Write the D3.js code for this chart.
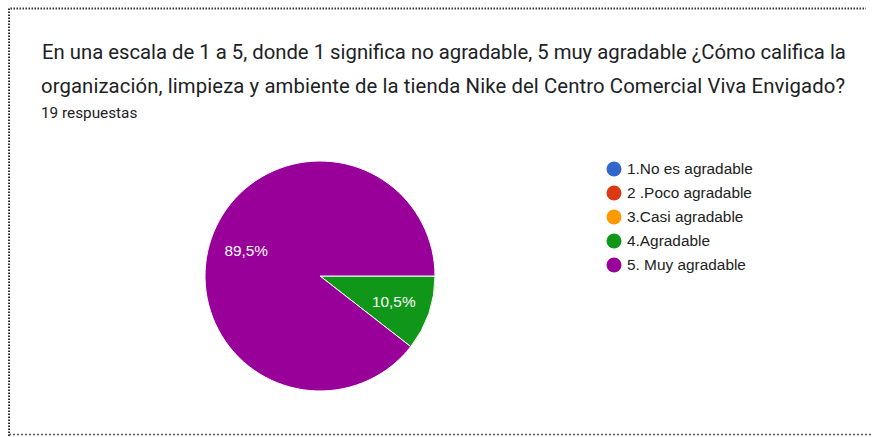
<!DOCTYPE html>
<html>
<head>
<meta charset="utf-8">
<script src="https://cdn.jsdelivr.net/npm/d3@7"></script>
<style>
  html, body { margin: 0; padding: 0; background: #fff; }
  svg { display: block; }
  text.title { white-space: pre; }
</style>
</head>
<body>
<svg id="chart" width="873" height="437"></svg>
<script>
// Survey answers (19 responses)
const categories = ["1.No es agradable", "2 .Poco agradable", "3.Casi agradable", "4.Agradable", "5. Muy agradable"];
const counts = [0, 0, 0, 2, 17];
const percentLabels = ["0%", "0%", "0%", "10,5%", "89,5%"];
const colors = ["#3366cc", "#dc3912", "#ff9900", "#109618", "#990099"];
const titleLines = [
  " En una escala de 1 a 5, donde 1 significa no agradable, 5 muy agradable ¿Cómo califica la",
  "organización, limpieza y ambiente de la tienda Nike del Centro Comercial Viva Envigado?"
];
const subtitle = "19 respuestas";

const svg = d3.select("#chart");
const titleFont = "Roboto, Arial, sans-serif";
const chartFont = "'Liberation Sans', Arial, sans-serif";

// dotted frame
svg.append("path")
  .attr("d", "M9,436 L9,8.5 L866,8.5")
  .attr("fill", "none").attr("stroke", "#333").attr("stroke-width", 2)
  .attr("stroke-dasharray", "1.5,1.5");
svg.append("line")
  .attr("x1", 9).attr("x2", 873).attr("y1", 434.5).attr("y2", 434.5)
  .attr("stroke", "#555").attr("stroke-width", 1.5).attr("stroke-dasharray", "2,2");

// title
const titleX = [37, 41];
const titleLen = [null, 804];
svg.selectAll("text.title").data(titleLines).join("text")
  .attr("class", "title")
  .attr("x", (d, i) => titleX[i]).attr("y", (d, i) => 59 + i * 34)
  .attr("font-family", titleFont).attr("font-size", 20.3).attr("fill", "#202124")
  .attr("textLength", (d, i) => titleLen[i])
  .attr("lengthAdjust", "spacing")
  .text(d => d);

svg.append("text")
  .attr("x", 41).attr("y", 118)
  .attr("font-family", titleFont).attr("font-size", 15.3).attr("fill", "#202124")
  .text(subtitle);

// pie
const cx = 320, cy = 276, r = 115;
const pie = d3.pie().sort(null).value(d => d)
  .startAngle(Math.PI / 2 - 2 * Math.PI * (counts[0] + counts[1] + counts[2]) / d3.sum(counts))
  .endAngle(Math.PI / 2 + 2 * Math.PI);
const arcs = pie(counts);
const arc = d3.arc().innerRadius(0).outerRadius(r);
const labelArc = d3.arc().innerRadius(78).outerRadius(78);

const g = svg.append("g").attr("transform", `translate(${cx},${cy})`);
g.selectAll("path").data(arcs.filter(a => a.value > 0)).join("path")
  .attr("d", arc)
  .attr("fill", d => colors[d.index])
  .attr("stroke", "#fff").attr("stroke-width", 1);

g.selectAll("text").data(arcs.filter(a => a.value > 0)).join("text")
  .attr("transform", d => `translate(${labelArc.centroid(d)})`)
  .attr("text-anchor", "middle").attr("dy", "0.35em")
  .attr("font-family", chartFont).attr("font-size", 15.4).attr("fill", "#fff")
  .text(d => percentLabels[d.index]);

// legend
const leg = svg.append("g").attr("transform", "translate(614,169)");
const items = leg.selectAll("g").data(categories).join("g")
  .attr("transform", (d, i) => `translate(0,${i * 24})`);
items.append("circle").attr("r", 7.5).attr("fill", (d, i) => colors[i]);
items.append("text")
  .attr("x", 13).attr("dy", "0.35em")
  .attr("font-family", chartFont).attr("font-size", 15.4).attr("fill", "#222")
  .text(d => d);
</script>
</body>
</html>
